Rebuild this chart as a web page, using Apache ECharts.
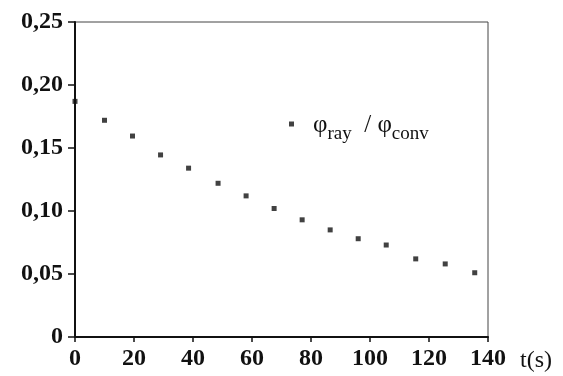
<!DOCTYPE html>
<html>
<head>
<meta charset="utf-8">
<script src="https://cdn.jsdelivr.net/npm/echarts@6/dist/echarts.min.js"></script>
<style>
  html, body { margin: 0; padding: 0; background: #fff; }
  #chart { width: 563px; height: 376px; }
</style>
</head>
<body>
<div id="chart"></div>
<script>
// time (s) and ratio phi_ray / phi_conv
const times = [0, 10, 19.5, 29, 38.5, 48.5, 58, 67.5, 77, 86.5, 96, 105.5, 115.5, 125.5, 135.5]
const ratio = [0.187, 0.172, 0.1595, 0.1445, 0.134, 0.122, 0.112, 0.102, 0.093, 0.085, 0.078, 0.073, 0.062, 0.058, 0.051]
const xTicks = [0, 20, 40, 60, 80, 100, 120, 140]
const yTicks = [0, 0.05, 0.10, 0.15, 0.20, 0.25]

const serif = '"Liberation Serif", "DejaVu Serif", serif'
const ink = '#111'

const chart = echarts.init(document.getElementById('chart'))

chart.setOption({
  animation: false,
  grid: {
    left: 75, right: 75, top: 22, bottom: 39,
    show: true, borderColor: '#444', borderWidth: 1
  },
  legend: {
    left: 284, top: 108,
    itemWidth: 5, itemHeight: 5, itemGap: 0,
    icon: 'rect',
    data: ['ratio'],
    formatter: () => '{p|φ}{s|ray}{p|  / φ}{s|conv}',
    textStyle: {
      padding: [0, 0, 0, 14],
      rich: {
        p: { fontFamily: serif, fontSize: 25, color: ink, lineHeight: 28, verticalAlign: 'bottom' },
        s: { fontFamily: serif, fontSize: 19, color: ink, lineHeight: 28, padding: [0, 0, -6, 0], verticalAlign: 'bottom' }
      }
    }
  },
  xAxis: {
    type: 'value',
    min: xTicks[0], max: xTicks[xTicks.length - 1], interval: 20,
    name: 't(s)',
    nameLocation: 'end',
    nameGap: 32,
    nameTextStyle: {
      fontFamily: serif, fontSize: 24, color: ink,
      verticalAlign: 'top', align: 'left', padding: [12, 0, 0, 0]
    },
    axisLine: { lineStyle: { color: ink, width: 2 } },
    axisTick: { show: true, length: 5, lineStyle: { color: ink, width: 1.5 } },
    axisLabel: { margin: 10, fontFamily: serif, fontWeight: 'bold', fontSize: 24, color: ink },
    splitLine: { show: false }
  },
  yAxis: {
    type: 'value',
    min: yTicks[0], max: yTicks[yTicks.length - 1], interval: 0.05,
    axisLine: { show: true, lineStyle: { color: ink, width: 2 } },
    axisTick: { show: true, length: 7, lineStyle: { color: ink, width: 1.5 } },
    axisLabel: {
      margin: 12, fontFamily: serif, fontWeight: 'bold', fontSize: 24, color: ink,
      formatter: v => v === 0 ? '0' : v.toFixed(2).replace('.', ',')
    },
    splitLine: { show: false }
  },
  series: [{
    name: 'ratio',
    type: 'scatter',
    symbol: 'rect',
    symbolSize: 5,
    itemStyle: { color: ink },
    data: times.map((t, i) => [t, ratio[i]])
  }]
})
</script>
</body>
</html>
